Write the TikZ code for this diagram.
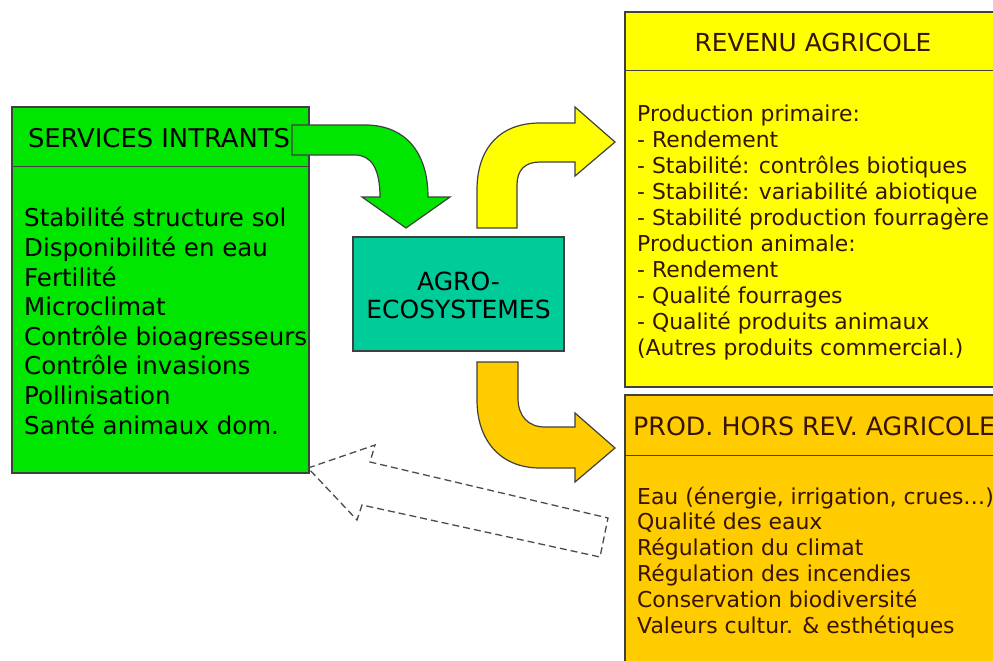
\documentclass[tikz,border=0pt]{standalone}
\usepackage{fontspec}
\setmainfont{DejaVu Sans}
\usepackage{tikz}
\usetikzlibrary{positioning,calc}
\definecolor{servgreen}{RGB}{0,230,0}
\definecolor{agroteal}{RGB}{0,204,153}
\definecolor{revyellow}{RGB}{255,255,0}
\definecolor{horsorange}{RGB}{255,204,0}
\definecolor{txtbrown}{RGB}{55,20,0}
\tikzset{box/.style={draw=black!75,line width=1.4pt,rectangle,inner sep=0pt},
  lst/.style={align=left,inner sep=0pt,anchor=base west},
  ttl/.style={inner sep=0pt,font=\fontsize{24.8}{29}\selectfont},
  bigarrow/.style={draw=black!75,line width=1.2pt,line join=miter}}

\begin{document}
\begin{tikzpicture}[x=1pt,y=-1pt]
\clip (0,0) rectangle (993,661);
\fill[white] (0,0) rectangle (993,661);
\node[box,fill=servgreen,minimum width=297pt,minimum height=366pt] (serv) at (160.5,290) {};
\draw[black!75,line width=1.4pt] ($(serv.north west)+(0,60)$) -- ($(serv.north east)+(0,60)$);
\node[ttl,anchor=base,font=\fontsize{25.8}{29}\selectfont] (servtitle) at (159,147) {SERVICES INTRANTS};
\node[lst,font=\fontsize{24.5}{29.6}\selectfont] (servlist) at (24,434)
  {Stabilité structure sol\\Disponibilité en eau\\Fertilité\\Microclimat\\
   Contrôle bioagresseurs\\Contrôle invasions\\Pollinisation\\Santé animaux dom.};
\node[box,fill=agroteal,minimum width=211pt,minimum height=114pt] (agro) at (458.5,294) {};
\node[ttl,anchor=base,align=center,font=\fontsize{25}{28}\selectfont] (agrotxt) at (458.5,318)
  {AGRO-\\ECOSYSTEMES};
\node[box,fill=revyellow,minimum width=376pt,minimum height=375pt] (rev) at (813,199.5) {};
\draw[black!75,line width=1.4pt] ($(rev.north west)+(0,59)$) -- ($(rev.north east)+(0,59)$);
\node[ttl,anchor=base,text=txtbrown] (revtitle) at (813,52) {REVENU AGRICOLE};
\node[lst,text=txtbrown,font=\fontsize{21.9}{26}\selectfont] (revlist) at (637,355)
  {Production primaire:\\- Rendement\\- Stabilité: contrôles biotiques\\
   - Stabilité: variabilité abiotique\\- Stabilité production fourragère\\
   Production animale:\\- Rendement\\- Qualité fourrages\\- Qualité produits animaux\\
   (Autres produits commercial.)};
\node[box,fill=horsorange,minimum width=376pt,minimum height=305pt] (hors) at (813,547.5) {};
\draw[black!75,line width=1.4pt] ($(hors.north west)+(0,61)$) -- ($(hors.north east)+(0,61)$);
\node[ttl,anchor=base west,text=txtbrown,font=\fontsize{25.3}{29}\selectfont] (horstitle) at (633,435)
  {PROD. HORS REV. AGRICOLE};
\node[lst,text=txtbrown,font=\fontsize{21.9}{25.8}\selectfont] (horslist) at (637,633)
  {Eau (énergie, irrigation, crues…)\\Qualité des eaux\\Régulation du climat\\
   Régulation des incendies\\Conservation biodiversité\\Valeurs cultur. \& esthétiques};
\draw[bigarrow,fill=servgreen] (292,125) -- (365,125) .. controls (405,125) and (428,152) .. (428,197)
  -- (450,197) -- (406,228) -- (362,197) -- (380,197) .. controls (380,170) and (372,155) .. (355,155)
  -- (292,155) -- cycle;
\draw[bigarrow,fill=revyellow] (477,228) -- (477,190) .. controls (477,148) and (500,123) .. (540,123)
  -- (575,123) -- (575,107) -- (615,142) -- (575,176) -- (575,162) -- (540,162)
  .. controls (525,162) and (517,170) .. (517,185) -- (517,228) -- cycle;
\draw[bigarrow,fill=horsorange] (477,362) -- (518,362) -- (518,398) .. controls (518,416) and (528,427) .. (545,427)
  -- (575,427) -- (575,413) -- (615,448) -- (575,482) -- (575,468) -- (540,468)
  .. controls (500,468) and (477,440) .. (477,400) -- cycle;
\draw[black!70,line width=1.3pt,dash pattern=on 7pt off 4pt] (308,468) -- (375,445) -- (370,462) -- (608,518)
  -- (600,557) -- (362,505) -- (357,520) -- cycle;
\end{tikzpicture}
\end{document}
